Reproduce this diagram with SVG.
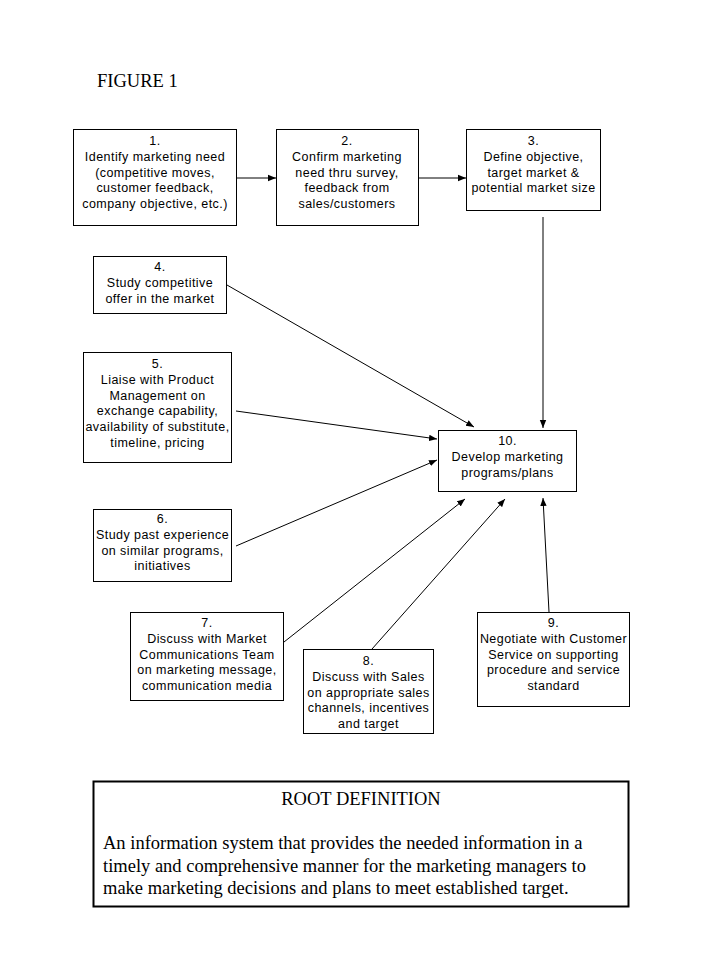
<svg xmlns="http://www.w3.org/2000/svg" width="719" height="959" viewBox="0 0 719 959">
<style>
.box{fill:#fff;stroke:#000;stroke-width:1}
.t{font-family:"Liberation Sans",Arial,sans-serif;font-size:12.5px;text-anchor:middle;fill:#000;letter-spacing:0.45px}
.c{stroke:#000;stroke-width:1;fill:none;marker-end:url(#ah)}
.serif{font-family:"Liberation Serif","Times New Roman",serif;fill:#000}
</style>
<defs>
<marker id="ah" viewBox="0 0 10 10" refX="10" refY="5" markerWidth="8" markerHeight="8" markerUnits="userSpaceOnUse" orient="auto">
<path d="M0,1 L10,5 L0,9 Z" fill="#000"/>
</marker>
</defs>
<rect width="719" height="959" fill="#fff"/>
<text class="serif" x="97" y="87" font-size="18.5">FIGURE 1</text>

<g id="connectors">
<line class="c" x1="236" y1="178" x2="276" y2="178"/>
<line class="c" x1="418" y1="178" x2="466" y2="178"/>
<line class="c" x1="543" y1="217" x2="543" y2="428"/>
<line class="c" x1="227" y1="285" x2="474" y2="427"/>
<line class="c" x1="236" y1="411" x2="437" y2="439"/>
<line class="c" x1="236" y1="546" x2="437" y2="460"/>
<line class="c" x1="284" y1="642" x2="465" y2="499"/>
<line class="c" x1="372" y1="649" x2="505" y2="499"/>
<line class="c" x1="549" y1="612" x2="543" y2="498"/>
</g>

<g id="n1">
<rect class="box" x="73.5" y="129.5" width="163" height="96"/>
<text class="t" x="155" y="145">1.</text>
<text class="t" x="155" y="161">Identify marketing need</text>
<text class="t" x="155" y="176.5">(competitive moves,</text>
<text class="t" x="155" y="192">customer feedback,</text>
<text class="t" x="155" y="208">company objective, etc.)</text>
</g>
<g id="n2">
<rect class="box" x="276.5" y="129.5" width="142" height="96"/>
<text class="t" x="347" y="145">2.</text>
<text class="t" x="347" y="161">Confirm marketing</text>
<text class="t" x="347" y="176.5">need thru survey,</text>
<text class="t" x="347" y="192">feedback from</text>
<text class="t" x="347" y="208">sales/customers</text>
</g>
<g id="n3">
<rect class="box" x="466.5" y="129.5" width="134" height="81"/>
<text class="t" x="533.5" y="145">3.</text>
<text class="t" x="533.5" y="161">Define objective,</text>
<text class="t" x="533.5" y="176.5">target market &amp;</text>
<text class="t" x="533.5" y="192">potential market size</text>
</g>
<g id="n4">
<rect class="box" x="93.5" y="256.5" width="133" height="57"/>
<text class="t" x="160" y="271">4.</text>
<text class="t" x="160" y="287">Study competitive</text>
<text class="t" x="160" y="302.5">offer in the market</text>
</g>
<g id="n5">
<rect class="box" x="83.5" y="352.5" width="148" height="110"/>
<text class="t" x="157.5" y="368">5.</text>
<text class="t" x="157.5" y="384">Liaise with Product</text>
<text class="t" x="157.5" y="399.5">Management on</text>
<text class="t" x="157.5" y="415">exchange capability,</text>
<text class="t" x="157.5" y="431">availability of substitute,</text>
<text class="t" x="157.5" y="446.5">timeline, pricing</text>
</g>
<g id="n6">
<rect class="box" x="93.5" y="509.5" width="138" height="72"/>
<text class="t" x="162.5" y="523">6.</text>
<text class="t" x="162.5" y="539">Study past experience</text>
<text class="t" x="162.5" y="554.5">on similar programs,</text>
<text class="t" x="162.5" y="570">initiatives</text>
</g>
<g id="n7">
<rect class="box" x="130.5" y="612.5" width="153" height="88"/>
<text class="t" x="207" y="627">7.</text>
<text class="t" x="207" y="643">Discuss with Market</text>
<text class="t" x="207" y="658.5">Communications Team</text>
<text class="t" x="207" y="674">on marketing message,</text>
<text class="t" x="207" y="690">communication media</text>
</g>
<g id="n8">
<rect class="box" x="303.5" y="649.5" width="130" height="84"/>
<text class="t" x="368.5" y="665">8.</text>
<text class="t" x="368.5" y="681">Discuss with Sales</text>
<text class="t" x="368.5" y="696.5">on appropriate sales</text>
<text class="t" x="368.5" y="712">channels, incentives</text>
<text class="t" x="368.5" y="728">and target</text>
</g>
<g id="n9">
<rect class="box" x="477.5" y="612.5" width="152" height="94"/>
<text class="t" x="553.5" y="627">9.</text>
<text class="t" x="553.5" y="643">Negotiate with Customer</text>
<text class="t" x="553.5" y="658.5">Service on supporting</text>
<text class="t" x="553.5" y="674">procedure and service</text>
<text class="t" x="553.5" y="690">standard</text>
</g>
<g id="n10">
<rect class="box" x="438.5" y="430.5" width="138" height="61"/>
<text class="t" x="507.5" y="445">10.</text>
<text class="t" x="507.5" y="461">Develop marketing</text>
<text class="t" x="507.5" y="476.5">programs/plans</text>
</g>

<g id="root">
<rect x="93.5" y="781.5" width="535" height="125" fill="#fff" stroke="#000" stroke-width="2"/>
<text class="serif" x="361" y="805" font-size="18.5" text-anchor="middle">ROOT DEFINITION</text>
<text class="serif" x="103" y="849" font-size="18.5">An information system that provides the needed information in a</text>
<text class="serif" x="103" y="871.5" font-size="18.5">timely and comprehensive manner for the marketing managers to</text>
<text class="serif" x="103" y="894" font-size="18.5">make marketing decisions and plans to meet established target.</text>
</g>
</svg>
